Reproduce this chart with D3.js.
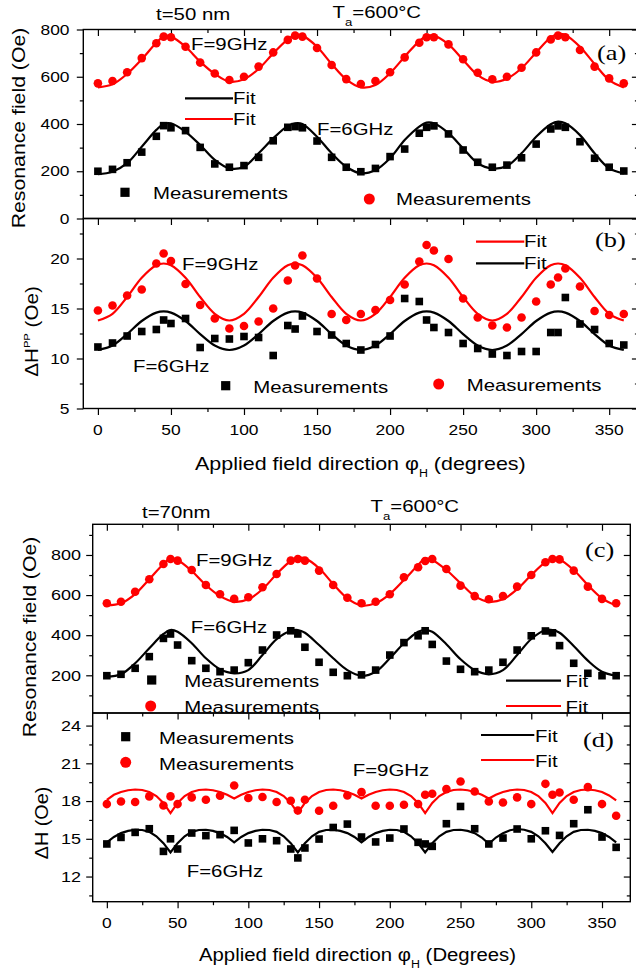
<!DOCTYPE html>
<html><head><meta charset="utf-8">
<script src="https://cdn.jsdelivr.net/npm/d3@7"></script>
<style>body{margin:0;background:#fff}svg{display:block}</style>
</head><body>
<svg id="chart" width="636" height="974"></svg>
<script>
// ---------- data ----------
const angles = [0,10,20,30,40,45,50,60,70,80,90,100,110,120,130,135,140,150,160,170,180,190,200,210,220,225,230,240,250,260,270,280,290,300,310,315,320,330,340,350,360];
const fitAnglesD = [0,5,10,15,20,25,30,35,40,45,50,55,60,65,70,75,80,85,90,95,100,105,110,115,120,125,130,135,140,145,150,155,160,165,170,175,180,185,190,195,200,205,210,215,220,225,230,235,240,245,250,255,260,265,270,275,280,285,290,295,300,305,310,315,320,325,330,335,340,345,350,355,360];

const xTickMajor = [0,50,100,150,200,250,300,350];
const xTickMinor = [25,75,125,175,225,275,325];
const aTickMajor = [0,200,400,600,800], aTickMinor = [100,300,500,700];
const bTickMajor = [5,10,15,20], bTickMinor = [7.5,12.5,17.5,22.5];
const cTickMajor = [200,400,600,800], cTickMinor = [100,300,500,700,900];
const dTickMajor = [12,15,18,21,24], dTickMinor = [10.5,13.5,16.5,19.5,22.5];

// (a) t=50 nm resonance field
const aMeas9 = [572,582,619,679,742,770,767,727,660,614,586,600,643,703,756,774,770,722,650,590,569,582,619,682,744,767,767,737,674,617,589,600,638,703,758,774,767,713,643,593,572];
const aMeas6 = [200,208,236,281,348,393,384,372,301,231,217,224,259,329,386,389,384,328,259,217,198,212,262,294,361,386,392,358,290,238,217,226,257,315,379,392,386,325,255,217,201];
const aFit9 = [555,568,612,674,744,770,770,727,664,612,579,589,633,699,758,777,774,727,654,589,555,565,615,685,751,772,774,737,671,607,579,592,636,703,767,781,777,727,654,586,555];
const aFit6 = [188,198,234,304,375,400,403,367,311,248,212,219,276,339,392,403,400,346,276,219,191,205,255,332,389,406,403,361,297,234,212,222,276,346,399,410,403,353,276,212,191];

// (b) t=50 nm linewidth
const bMeas9 = [14.8,15.3,16.3,16.9,19.5,20.5,19.75,17.45,15.35,14.0,13.0,13.25,13.7,15.0,17.8,19.3,20.3,18.0,14.45,13.85,14.45,14.85,15.85,17.4,19.7,21.35,20.8,19.95,16.0,14.1,13.3,13.1,14.1,15.7,17.4,18.1,19.0,17.2,14.75,14.35,14.45];
const bMeas6 = [11.15,11.55,12.25,12.7,12.9,13.85,13.5,14.0,11.1,12.0,11.95,12.2,12.1,10.3,13.3,12.95,14.25,12.7,12.35,11.5,10.85,11.4,12.25,16.0,15.7,13.85,13.1,12.6,11.5,11.0,10.45,10.3,10.7,10.7,12.6,12.6,16.1,13.45,12.9,11.5,11.35];
const bFit9 = [13.8,14.47,16.15,18.08,19.33,19.5,19.33,18.08,16.15,14.47, 13.8,14.47,16.15,18.08,19.33,19.5,19.33,18.08,16.15,14.47, 13.8,14.47,16.15,18.08,19.33,19.5,19.33,18.08,16.15,14.47, 13.8,14.47,16.15,18.08,19.33,19.5,19.33,18.08,16.15,14.47, 13.8];
const bFit6 = [10.85,11.3,12.44,13.75,14.59,14.71,14.59,13.75,12.44,11.3, 10.85,11.3,12.44,13.75,14.59,14.71,14.59,13.75,12.44,11.3, 10.85,11.3,12.44,13.75,14.59,14.71,14.59,13.75,12.44,11.3, 10.85,11.3,12.44,13.75,14.59,14.71,14.59,13.75,12.44,11.3, 10.85];

// (c) t=70 nm resonance field
const cMeas9 = [559,567,617,679,755,780,772,725,650,604,581,589,639,705,772,780,772,722,650,587,559,567,604,689,739,770,780,730,647,595,579,595,642,700,764,780,778,722,642,581,559];
const cMeas6 = [198,205,235,293,384,406,351,273,235,218,226,263,326,401,422,406,340,265,215,198,202,226,301,363,397,422,354,271,230,218,226,265,326,397,421,412,348,260,210,198,198];
const cFit9 = [548,559,605,679,755,783,775,720,650,595,567,579,629,705,770,785,783,734,655,584,548,559,605,675,750,783,775,725,659,595,567,579,629,700,764,783,778,725,650,584,548];
const cFit6 = [193,205,260,335,406,426,417,360,285,230,210,226,301,380,422,426,412,351,285,226,198,218,285,360,417,426,417,355,280,226,205,226,301,381,426,426,412,346,273,218,198];

// (d) t=70 nm linewidth
const dMeas9 = [17.76,17.97,17.92,18.37,17.65,18.37,17.76,18.29,18.1,18.42,19.24,18.24,18.32,17.92,18.02,17.25,18.1,17.23,17.63,18.44,18.71,17.63,17.63,17.71,17.76,18.5,18.58,18.95,19.56,18.76,17.97,17.89,18.29,17.76,19.37,18.5,18.68,18.1,19.11,17.76,16.83];
const dMeas6 = [14.59,15.11,15.51,15.8,14.0,15.0,14.19,15.46,15.25,15.33,15.67,14.67,15.0,14.85,14.19,13.48,14.27,14.98,15.9,16.17,15.14,14.75,15.06,15.78,14.72,14.59,14.4,16.2,17.57,15.8,14.59,15.06,15.78,15.0,15.64,null,15.27,16.2,17.31,15.14,14.32];
const dFit9 = [18.1,18.5,18.72,18.86,18.92,18.88,18.72,18.4,17.85,17.05,17.85,18.4,18.72,18.88,18.92,18.86,18.72,18.5,18.2,
  18.5,18.72,18.86,18.92,18.88,18.72,18.4,17.85,17.05,17.85,18.4,18.72,18.88,18.92,18.86,18.72,18.5,18.2,
  18.5,18.72,18.86,18.92,18.88,18.72,18.4,17.85,17.05,17.85,18.4,18.72,18.88,18.92,18.86,18.72,18.5,18.2,
  18.5,18.72,18.86,18.92,18.88,18.72,18.4,17.85,17.05,17.85,18.4,18.72,18.88,18.92,18.86,18.72,18.45,18.05];
const dFit6 = [14.72,15.15,15.45,15.63,15.72,15.7,15.55,15.2,14.65,13.92,14.65,15.2,15.55,15.7,15.72,15.63,15.45,15.15,14.72,
  15.15,15.45,15.63,15.72,15.7,15.55,15.2,14.65,13.92,14.65,15.2,15.55,15.7,15.72,15.63,15.45,15.15,14.72,
  15.15,15.45,15.63,15.72,15.7,15.55,15.2,14.65,13.92,14.65,15.2,15.55,15.7,15.72,15.63,15.45,15.1,14.6,
  15.1,15.45,15.68,15.78,15.72,15.55,15.2,14.65,13.95,14.65,15.2,15.55,15.7,15.72,15.63,15.45,15.15,14.72];

// ---------- drawing ----------
const RED = '#ff0000';
const SANS = '"Liberation Sans", Arial, Helvetica, sans-serif';
const SERIF = '"Liberation Serif", "DejaVu Serif", serif';
const svg = d3.select('#chart');

function txt(x, y, s, o = {}) {
  const size = o.size || 17, sx = o.sx || 1.2, rot = o.rot || 0;
  const t = svg.append('text')
    .attr('transform', `translate(${x},${y}) rotate(${rot}) scale(${sx},1)`)
    .attr('font-family', o.family || SANS).attr('font-size', size)
    .attr('text-anchor', o.anchor || 'start').attr('fill', o.fill || '#000');
  if (typeof s === 'string') t.text(s);
  else s.forEach(p => t.append('tspan').attr('font-size', p.size || size).attr('dy', p.dy || 0).text(p.t));
  return t;
}

const xTop = d3.scaleLinear().domain([-10, 370]).range([83.3, 638.4]);
const xBot = d3.scaleLinear().domain([-10, 370]).range([92.7, 630.3]);
const yA = d3.scaleLinear().domain([0, 800]).range([218.5, 29.5]);
const yB = d3.scaleLinear().domain([5, 24]).range([408.5, 218.5]);
const yC = d3.scaleLinear().domain([12, 953]).range([713, 524.3]);
const yD = d3.scaleLinear().domain([10, 25]).range([901.7, 713]);

function axes(x, y, o) {
  const [x0, x1] = x.range(), [y0, y1] = y.range();
  const g = svg.append('g');
  const add = (axis, tr) => g.append('g').attr('transform', tr).call(axis);
  add(d3.axisLeft(y).tickValues(o.yMajor).tickSize(6.5).tickFormat(''), `translate(${x0},0)`);
  add(d3.axisLeft(y).tickValues(o.yMinor).tickSize(3.5).tickFormat(''), `translate(${x0},0)`);
  add(d3.axisRight(y).tickValues(o.yMajor).tickSize(-6.5).tickFormat(''), `translate(${x1},0)`);
  add(d3.axisRight(y).tickValues(o.yMinor).tickSize(-3.5).tickFormat(''), `translate(${x1},0)`);
  add(d3.axisBottom(x).tickValues(xTickMajor).tickSize(6.5).tickFormat(''), `translate(0,${y0})`);
  add(d3.axisBottom(x).tickValues(xTickMinor).tickSize(3.5).tickFormat(''), `translate(0,${y0})`);
  if (o.top) {
    add(d3.axisTop(x).tickValues(xTickMajor).tickSize(-6.5).tickFormat(''), `translate(0,${y1})`);
    add(d3.axisTop(x).tickValues(xTickMinor).tickSize(-3.5).tickFormat(''), `translate(0,${y1})`);
  }
  g.selectAll('.domain').remove();
  g.selectAll('.tick line').attr('stroke', '#000').attr('stroke-width', 1.2);
  g.append('rect').attr('x', x0).attr('y', y1).attr('width', x1 - x0).attr('height', y0 - y1)
    .attr('fill', 'none').attr('stroke', '#000').attr('stroke-width', 1.4);
  o.yMajor.forEach(v => txt(o.labelX, y(v) + 5.2, String(v), {size: o.tickSize, anchor: 'end'}));
  if (o.xLabelY) xTickMajor.forEach(v => txt(x(v), o.xLabelY, String(v), {size: 14.5, anchor: 'middle'}));
}

function fitLine(x, y, ang, vals, color, curve) {
  const pts = ang.map((a, i) => [a, vals[i]]);
  svg.append('path').datum(pts)
    .attr('d', d3.line().x(d => x(d[0])).y(d => y(d[1])).curve(curve))
    .attr('fill', 'none').attr('stroke', color).attr('stroke-width', 2.2);
}
function circles(x, y, vals) {
  const pts = angles.map((a, i) => [a, vals[i]]).filter(d => d[1] != null);
  svg.append('g').selectAll('circle').data(pts).join('circle')
    .attr('cx', d => x(d[0])).attr('cy', d => y(d[1])).attr('r', 4.3).attr('fill', RED);
}
function squares(x, y, vals) {
  const s = 7.6;
  const pts = angles.map((a, i) => [a, vals[i]]).filter(d => d[1] != null);
  svg.append('g').selectAll('rect').data(pts).join('rect')
    .attr('x', d => x(d[0]) - s / 2).attr('y', d => y(d[1]) - s / 2)
    .attr('width', s).attr('height', s).attr('fill', '#000');
}
function legSquare(cx, cy) { svg.append('rect').attr('x', cx - 4.6).attr('y', cy - 4.6).attr('width', 9.2).attr('height', 9.2).attr('fill', '#000'); }
function legCircle(cx, cy) { svg.append('circle').attr('cx', cx).attr('cy', cy).attr('r', 5.5).attr('fill', RED); }
function legLine(x1, x2, yy, color) { svg.append('line').attr('x1', x1).attr('x2', x2).attr('y1', yy).attr('y2', yy).attr('stroke', color).attr('stroke-width', 2.2); }

// axes
axes(xTop, yA, {yMajor: aTickMajor, yMinor: aTickMinor, top: true, labelX: 69.5, tickSize: 14.5});
axes(xTop, yB, {yMajor: bTickMajor, yMinor: bTickMinor, top: false, labelX: 69.5, tickSize: 14.5, xLabelY: 435});
axes(xBot, yC, {yMajor: cTickMajor, yMinor: cTickMinor, top: true, labelX: 81, tickSize: 15});
axes(xBot, yD, {yMajor: dTickMajor, yMinor: dTickMinor, top: false, labelX: 81, tickSize: 15, xLabelY: 928});

// series
fitLine(xTop, yA, angles, aFit9, RED, d3.curveCatmullRom);
fitLine(xTop, yA, angles, aFit6, '#000', d3.curveCatmullRom);
circles(xTop, yA, aMeas9); squares(xTop, yA, aMeas6);

fitLine(xTop, yB, angles, bFit9, RED, d3.curveCatmullRom);
fitLine(xTop, yB, angles, bFit6, '#000', d3.curveCatmullRom);
circles(xTop, yB, bMeas9); squares(xTop, yB, bMeas6);

fitLine(xBot, yC, angles, cFit9, RED, d3.curveCatmullRom);
fitLine(xBot, yC, angles, cFit6, '#000', d3.curveCatmullRom);
circles(xBot, yC, cMeas9); squares(xBot, yC, cMeas6);

fitLine(xBot, yD, fitAnglesD, dFit9, RED, d3.curveLinear);
fitLine(xBot, yD, fitAnglesD, dFit6, '#000', d3.curveLinear);
circles(xBot, yD, dMeas9); squares(xBot, yD, dMeas6);

// ---- texts top figure ----
txt(156, 20, 't=50 nm');
txt(332.5, 18.3, [{t: 'T'}, {t: 'a', size: 11, dy: 8}, {t: '=600°C', dy: -8}]);
txt(597, 60, '(a)', {family: SERIF, size: 22});
txt(191, 50, 'F=9GHz');
txt(317, 135, 'F=6GHz');
legLine(185, 233, 98.3, '#000'); txt(233, 104, 'Fit');
legLine(185, 233, 119, RED); txt(233, 125, 'Fit');
legSquare(125, 192.3); txt(153, 199, 'Measurements');
legCircle(369.3, 199); txt(396, 205, 'Measurements');

txt(595, 247, '(b)', {family: SERIF, size: 22});
txt(182, 270, 'F=9GHz');
txt(133, 371.7, 'F=6GHz');
legSquare(225.7, 385.7); txt(253.3, 392.7, 'Measurements');
legCircle(438.7, 384); txt(466.7, 390.7, 'Measurements');
legLine(476, 524.3, 241.7, RED); txt(524, 247.3, 'Fit');
legLine(476, 524.3, 263.3, '#000'); txt(524, 269.3, 'Fit');

txt(24.5, 128, 'Resonance field (Oe)', {rot: -90, anchor: 'middle', size: 18, sx: 1.18});
txt(37.5, 331.5, [{t: 'ΔH'}, {t: 'PP', size: 9.5, dy: -7.5}, {t: ' (Oe)', dy: 7.5}], {rot: -90, anchor: 'middle', size: 17.5, sx: 1.18});
txt(195, 470, [{t: 'Applied field direction φ'}, {t: 'H', size: 11, dy: 7}, {t: ' (degrees)', dy: -7}], {size: 19, sx: 1.13});

// ---- texts bottom figure ----
txt(142, 518.3, 't=70nm');
txt(370.5, 511.7, [{t: 'T'}, {t: 'a', size: 11, dy: 8}, {t: '=600°C', dy: -8}]);
txt(585, 557, '(c)', {family: SERIF, size: 22});
txt(196, 566, 'F=9GHz');
txt(190.7, 632.7, 'F=6GHz');
legSquare(151.7, 680); txt(184.3, 687.3, 'Measurements');
legCircle(150.7, 706); txt(184.3, 712.7, 'Measurements');
legLine(506, 561, 680.7, '#000'); txt(565.5, 687.3, 'Fit');
legLine(506, 561, 706, RED); txt(565.5, 712.7, 'Fit');

txt(583, 747, '(d)', {family: SERIF, size: 22});
legSquare(125.7, 736.7); txt(159, 744, 'Measurements');
legCircle(125.7, 762.3); txt(159, 770, 'Measurements');
txt(186.7, 876.7, 'F=6GHz');
txt(352.7, 776, 'F=9GHz');
legLine(481, 534.3, 735, '#000'); txt(535, 741.7, 'Fit');
legLine(481, 534.3, 760, RED); txt(535, 766.7, 'Fit');

txt(36, 637, 'Resonance field (Oe)', {rot: -90, anchor: 'middle', size: 18, sx: 1.18});
txt(48, 823, 'ΔH (Oe)', {rot: -90, anchor: 'middle', size: 18, sx: 1.1});
txt(199, 960.7, [{t: 'Applied field direction φ'}, {t: 'H', size: 11, dy: 7}, {t: ' (Degrees)', dy: -7}], {size: 18, sx: 1.13});
</script>
</body></html>
